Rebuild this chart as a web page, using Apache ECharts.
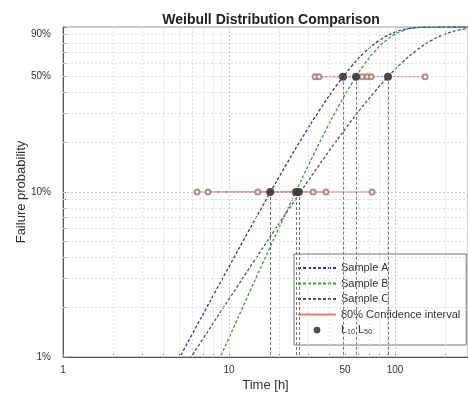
<!DOCTYPE html>
<html><head><meta charset="utf-8">
<script src="https://cdn.jsdelivr.net/npm/echarts@6/dist/echarts.min.js"></script>
<style>html,body{margin:0;padding:0;background:#fff}#c{width:468px;height:397px}</style>
</head><body><div id="c"></div>
<script>
// ---- data ----
const timeA = [4.5, 6, 8, 10, 13, 17, 22, 28, 35, 45, 55, 65, 80, 100, 120, 150, 200, 275];
const probA = [0.00805, 0.01374, 0.02341, 0.03531, 0.05704, 0.09243, 0.1454, 0.2185, 0.3122, 0.4505, 0.5816, 0.6961, 0.8273, 0.9305, 0.9764, 0.99662, 0.99994, 1.0];
const timeB = [8, 10, 13, 16, 20, 25, 30, 38, 46, 55, 65, 75, 90, 110, 130, 160, 200, 275];
const probB = [0.00794, 0.01309, 0.02349, 0.03722, 0.06074, 0.09833, 0.1444, 0.2333, 0.3352, 0.4567, 0.5889, 0.7067, 0.8425, 0.9452, 0.9854, 0.99882, 0.99998, 1.0];
const timeC = [5, 7, 10, 14, 19, 25, 32, 40, 50, 62, 75, 90, 110, 135, 165, 200, 240, 275];
const probC = [0.00772, 0.01298, 0.02243, 0.03751, 0.05951, 0.08962, 0.1286, 0.1768, 0.2403, 0.3188, 0.4028, 0.4953, 0.6068, 0.7226, 0.8262, 0.9053, 0.9562, 0.9790];
const sampleNames = ['Sample A', 'Sample B', 'Sample C'];
const L10 = [17.7, 25.3, 26.3];
const L50 = [48.6, 58.2, 90.7];
const ci10Low = [7.47, 14.9, 6.42];
const ci10High = [32.1, 38.4, 72.7];
const ci50Low = [33.0, 34.8, 63.3];
const ci50High = [67.8, 71.7, 151.7];
const xTickLabels = [1, 10, 50, 100];
const yTickLabels = [0.01, 0.1, 0.5, 0.9];
const xMinor = [1,2,3,4,5,6,7,8,9,10,20,30,40,50,60,70,80,90,100,200];
const yMinor = [0.01,0.02,0.03,0.04,0.05,0.06,0.07,0.08,0.09,0.1,0.2,0.3,0.4,0.5,0.6,0.7,0.8,0.9,1];

const colors = ['#3030d0', '#35a035', '#555555'];
const ciColor = '#e07a7a';
const FONT = 'Liberation Sans, Arial, sans-serif';
const NO_SYMBOL = 'path://M0,0M1,1';

const zip = (a, b) => a.map((v, i) => [v, b[i]]);
const curves = [zip(timeA, probA), zip(timeB, probB), zip(timeC, probC)];

const series = [];
// grid lines
series.push({
  type: 'scatter', data: [], silent: true, z: 1,
  markLine: {
    silent: true, symbol: 'none', animation: false, label: {show: false},
    data: xMinor.filter(v => v > 1).map(v => ({xAxis: v, lineStyle: {color: [10,100].includes(v) ? '#c8c8c8' : '#e0e0e0', type: [2,2], width: 1}}))
      .concat(yMinor.filter(v => v > 0.01 && v < 1).map(v => ({yAxis: v, lineStyle: {color: [0.1].includes(v) ? '#c8c8c8' : '#e0e0e0', type: [2,2], width: 1}})))
  }
});
// curves
curves.forEach((d, i) => {
  series.push({
    name: sampleNames[i], type: 'line', data: d, symbol: NO_SYMBOL, showSymbol: false, smooth: true, z: 3,
    lineStyle: {color: colors[i], width: 1.3, type: [3, 2]}, itemStyle: {color: colors[i]}
  });
});
// confidence intervals
for (let i = 0; i < 3; i++) {
  [[ci10Low[i], ci10High[i], 0.1], [ci50Low[i], ci50High[i], 0.5]].forEach(([lo, hi, p]) => {
    series.push({
      name: '80% Confidence interval', type: 'line', data: [[lo, p], [hi, p]], symbol: NO_SYMBOL, showSymbol: false, z: 4,
      lineStyle: {color: ciColor, width: 1}, itemStyle: {color: ciColor}
    });
  });
}
// CI end markers
const ciEnds = [];
for (let i = 0; i < 3; i++) {
  ciEnds.push([ci10Low[i], 0.1], [ci10High[i], 0.1], [ci50Low[i], 0.5], [ci50High[i], 0.5]);
}
series.push({
  name: 'ciEnds', type: 'scatter', data: ciEnds, symbol: 'emptyCircle', symbolSize: 5, z: 5,
  itemStyle: {color: '#a87070', borderWidth: 1}
});
// vertical dashed lines from L points
const vLines = [];
for (let i = 0; i < 3; i++) {
  vLines.push([{coord: [L10[i], 0.1]}, {coord: [L10[i], 0.01]}]);
  vLines.push([{coord: [L50[i], 0.5]}, {coord: [L50[i], 0.01]}]);
}
series.push({
  type: 'scatter', data: [], silent: true, z: 2,
  markLine: {silent: true, symbol: 'none', animation: false, label: {show: false},
    lineStyle: {color: '#777', type: [3, 2], width: 1}, data: vLines}
});
// L points
const lPts = [];
for (let i = 0; i < 3; i++) { lPts.push([L10[i], 0.1], [L50[i], 0.5]); }
series.push({
  name: 'L10 L50', type: 'scatter', data: lPts, symbol: 'circle', symbolSize: 8, z: 6,
  itemStyle: {color: '#3a3a3a', opacity: 0.9}
});

const option = {
  animation: false,
  backgroundColor: '#fff',
  textStyle: {fontFamily: FONT},
  title: {
    text: 'Weibull Distribution Comparison', left: 266, top: 8, textAlign: 'center',
    textStyle: {fontSize: 14, fontWeight: 'bold', color: '#222', fontFamily: FONT}
  },
  grid: {left: 63, top: 27, right: 0, bottom: 40, show: true, borderColor: '#999', borderWidth: 1, containLabel: false},
  legend: {
    orient: 'vertical', left: 294, top: 254,
    data: ['Sample A', 'Sample B', 'Sample C', '80% Confidence interval',
      {name: 'L10 L50', icon: 'path://M0,0M10,10M2.2,5A2.8,2.8,0,1,1,7.8,5A2.8,2.8,0,1,1,2.2,5Z'}],
    itemWidth: 38, itemHeight: 12, itemGap: 3.5, padding: [8, 6, 9, 3],
    borderColor: '#777', borderWidth: 1, backgroundColor: '#fff',
    textStyle: {fontSize: 11, lineHeight: 12, color: '#333', fontFamily: FONT,
      rich: {sub: {fontSize: 7, lineHeight: 12, verticalAlign: 'bottom', color: '#333', fontFamily: FONT},
             n: {fontSize: 11, lineHeight: 12, color: '#333', fontFamily: FONT}}},
    formatter: n => n === 'L10 L50' ? '{n|L}{sub|10}{n|\u00a0L}{sub|50}' : n
  },
  xAxis: {
    type: 'log', logBase: 10, min: 1, max: 275,
    name: 'Time [h]', nameLocation: 'middle', nameGap: 22, nameMoveOverlap: false,
    nameTextStyle: {fontSize: 13, color: '#333', fontFamily: FONT},
    axisLine: {lineStyle: {color: '#555'}},
    axisTick: {inside: true, length: 3, customValues: xMinor, lineStyle: {color: '#777'}},
    axisLabel: {customValues: xTickLabels, fontSize: 10, color: '#333', margin: 8, formatter: v => String(Math.round(v))},
    splitLine: {show: false}
  },
  yAxis: {
    type: 'log', logBase: 10, min: 0.01, max: 1,
    name: 'Failure probability', nameLocation: 'middle', nameGap: 35, nameMoveOverlap: false,
    nameTextStyle: {fontSize: 13, color: '#333', fontFamily: FONT},
    axisLine: {lineStyle: {color: '#555'}},
    axisTick: {inside: true, length: 3, customValues: yMinor, lineStyle: {color: '#777'}},
    axisLabel: {customValues: yTickLabels, fontSize: 10, color: '#333', margin: 12, formatter: v => Math.round(v * 100) + '%'},
    splitLine: {show: false}
  },
  series: series
};
const chart = echarts.init(document.getElementById('c'), null, {renderer: 'canvas'});
chart.setOption(option);
</script>
</body></html>
